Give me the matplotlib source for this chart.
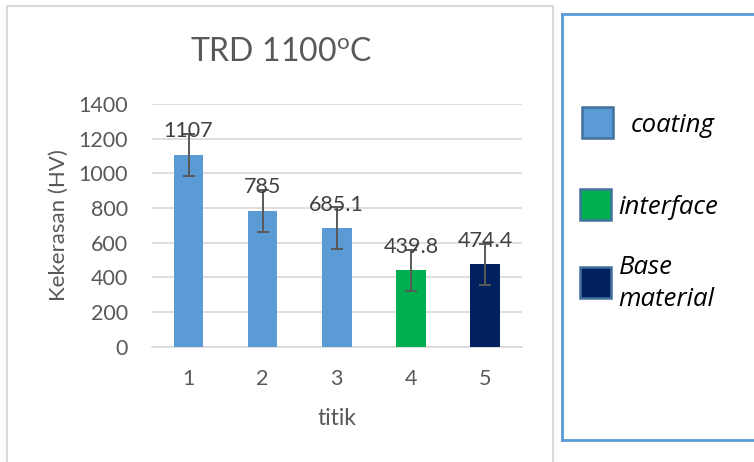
import matplotlib
matplotlib.use("Agg")
import matplotlib.pyplot as plt
from matplotlib.patches import Rectangle

# Hardness measurement data
points = ["1", "2", "3", "4", "5"]
hardness = [1107, 785, 685.1, 439.8, 474.4]
hardness_err = [120.8, 120.8, 120.8, 120.8, 120.8]
value_labels = ["1107", "785", "685.1", "439.8", "474.4"]
bar_colors = ["#5B9BD5", "#5B9BD5", "#5B9BD5", "#00B050", "#002060"]
y_ticks = [0, 200, 400, 600, 800, 1000, 1200, 1400]

legend_labels = ["coating", "interface", "Base\nmaterial"]
legend_colors = ["#5B9BD5", "#00B050", "#002060"]

plt.rcParams["font.family"] = ["Lato", "DejaVu Sans"]
plt.rcParams["mathtext.default"] = "regular"

W, H = 754, 462
fig = plt.figure(figsize=(W / 100, H / 100), dpi=100)
fig.patch.set_facecolor("white")

def px(x0, y0, x1, y1):
    """Convert pixel box (top-left origin) to figure fraction rect."""
    return [x0 / W, 1 - y1 / H, (x1 - x0) / W, (y1 - y0) / H]

text_gray = "#595959"
grid_gray = "#D9D9D9"

# Chart frame
fig.patches.append(Rectangle((6.5 / W, -0.05), (553 - 6.5) / W, 1 - 5.5 / H + 0.05,
                             transform=fig.transFigure, fill=False,
                             edgecolor=grid_gray, linewidth=1.5))

ax = fig.add_axes(px(151.5, 104, 522, 346.7))
xpos = range(len(points))
ax.bar(xpos, hardness, width=0.40, color=bar_colors, zorder=3)
ax.errorbar(xpos, hardness, yerr=hardness_err, fmt="none", ecolor=text_gray,
            elinewidth=1.4, capsize=4, capthick=1.4, zorder=4)
for x, v, lab in zip(xpos, hardness, value_labels):
    ax.annotate(lab, (x, v), xytext=(0, 12.5), textcoords="offset points",
                ha="center", va="baseline", fontsize=15.5, color="#404040", zorder=5)

ax.set_xlim(-0.5, len(points) - 0.5)
ax.set_ylim(0, 1400)
ax.set_yticks(y_ticks)
ax.set_xticks(list(xpos))
ax.set_xticklabels(points)
ax.yaxis.grid(True, color=grid_gray, linewidth=1.2, zorder=0)
ax.set_axisbelow(True)
for s in ["top", "right", "left"]:
    ax.spines[s].set_visible(False)
ax.spines["bottom"].set_color(grid_gray)
ax.spines["bottom"].set_linewidth(1.2)
ax.tick_params(axis="both", length=0, labelsize=15.5, labelcolor=text_gray)
ax.tick_params(axis="y", pad=17)
ax.tick_params(axis="x", pad=16)
ax.set_xlabel("titik", fontsize=16.5, color=text_gray, labelpad=14)
ax.set_ylabel("Kekerasan (HV)", fontsize=16, color=text_gray, labelpad=7)

fig.text(281 / W, 1 - 52 / H, "TRD 1100$^{o}$C", ha="center", va="center",
         fontsize=23, color=text_gray)

# Legend box
leg = fig.add_axes(px(561.5, 13.5, 770, 439.5))
leg.set_xlim(0, 1)
leg.set_ylim(0, 1)
leg.invert_yaxis()
leg.set_xticks([])
leg.set_yticks([])
for s in leg.spines.values():
    s.set_edgecolor("#5B9BD5")
    s.set_linewidth(2)

box_w = 208.5
box_h = 426.0
sq_x = [20.5, 18.8, 18.8]
sq_y = [93.5, 175, 253.5]
txt_x = [69.5, 57, 57]
# baseline of the last line of each label
txt_base = [118.2, 200.5, 292.5]
for lab, col, sx, sy, tx, ty in zip(legend_labels, legend_colors, sq_x, sq_y, txt_x, txt_base):
    leg.add_patch(Rectangle((sx / box_w, sy / box_h), 31 / box_w, 31 / box_h,
                            facecolor=col, edgecolor="#41719C", linewidth=1.8))
    leg.text(tx / box_w, ty / box_h, lab, ha="left", va="baseline", fontsize=18.5,
             style="italic", color="black", linespacing=1.385,
             family=["Open Sans", "Lato", "DejaVu Sans"])

fig.savefig("out.png", dpi=100)
